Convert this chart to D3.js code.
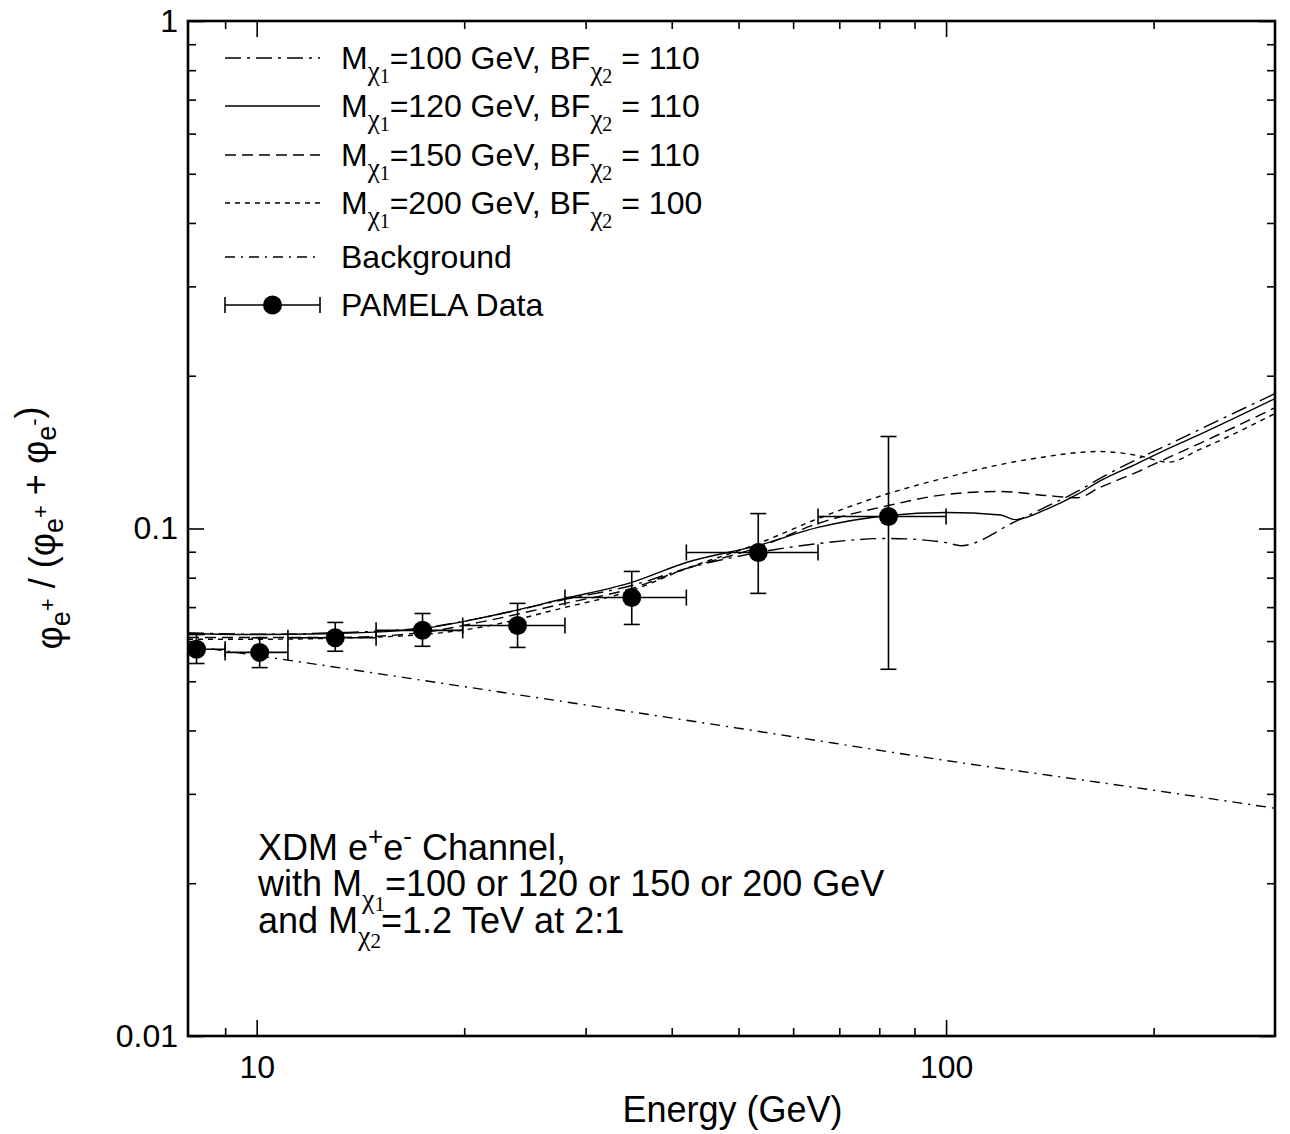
<!DOCTYPE html>
<html>
<head>
<meta charset="utf-8">
<script src="https://cdn.jsdelivr.net/npm/d3@7"></script>
<style>
  body { margin: 0; background: #fff; }
  svg { display: block; font-family: "Liberation Sans", Arial, sans-serif; }
  .axis path { display: none; }
  .axis line { stroke: #000; stroke-width: 1.6; }
  .axis text { font-size: 32px; fill: #000; font-family: "Liberation Sans", Arial, sans-serif; }
</style>
</head>
<body>
<svg width="1290" height="1134"></svg>
<script>
// PAMELA positron fraction points
const pamelaE = [8.18, 10.1, 13.0, 17.4, 23.9, 35.0, 53.4, 82.5];
const pamelaLo = [7.4, 9.0, 11.1, 14.9, 19.9, 28.0, 42.0, 65.2];
const pamelaHi = [9.0, 11.1, 14.9, 19.9, 28.0, 42.0, 65.2, 100];
const pamelaFrac = [0.0578, 0.0570, 0.0609, 0.0630, 0.0644, 0.0731, 0.0897, 0.1056];
const pamelaErrLo = [0.0542, 0.0532, 0.0573, 0.0586, 0.0583, 0.0647, 0.0745, 0.0528];
const pamelaErrHi = [0.0618, 0.0609, 0.0653, 0.0680, 0.0712, 0.0823, 0.1070, 0.1518];

// model curves (energy in GeV)
const eM100 = [7.95, 10, 13, 17.4, 21, 28, 35, 42, 53.4, 65.2, 82.5, 100, 105, 126, 140, 155, 167, 190, 210, 233, 300];
const fM100 = [0.0623, 0.0619, 0.0623, 0.0637, 0.0665, 0.0725, 0.0772, 0.0834, 0.0897, 0.0934, 0.0956, 0.0938, 0.0925, 0.1032, 0.1105, 0.1183, 0.1254, 0.1373, 0.1463, 0.1566, 0.1844];
const eM120 = [7.95, 10, 13, 17.4, 21, 28, 35, 42, 53.4, 65.2, 82.5, 100, 120, 126, 140, 155, 167, 190, 210, 233, 300];
const fM120 = [0.0621, 0.0618, 0.0621, 0.0635, 0.0665, 0.0728, 0.0783, 0.0857, 0.0926, 0.1005, 0.1061, 0.1075, 0.1063, 0.1041, 0.1092, 0.1167, 0.1240, 0.1346, 0.1437, 0.1531, 0.1803];
const eM150 = [7.95, 10, 13, 17.4, 21, 28, 35, 42, 53.4, 65.2, 82.5, 100, 120, 140, 155, 167, 190, 210, 233, 300];
const fM150 = [0.0610, 0.0610, 0.0610, 0.0624, 0.0653, 0.0712, 0.0762, 0.0834, 0.0918, 0.1023, 0.1110, 0.1167, 0.1183, 0.1161, 0.1150, 0.1204, 0.1295, 0.1379, 0.1470, 0.1730];
const eM200 = [7.95, 10, 13, 17.4, 21, 28, 35, 42, 53.4, 65.2, 82.5, 100, 120, 140, 155, 167, 190, 210, 233, 300];
const fM200 = [0.0605, 0.0605, 0.0608, 0.0618, 0.0638, 0.0699, 0.0755, 0.0834, 0.0934, 0.1046, 0.1172, 0.1260, 0.1337, 0.1386, 0.1411, 0.1418, 0.1392, 0.1351, 0.1430, 0.1684];
const eBkg = [7.95, 10, 20, 50, 100, 200, 300];
const fBkg = [0.0588, 0.0562, 0.0488, 0.0404, 0.0349, 0.0305, 0.0281];

const xMajor = [10, 100];
const xMinor = [9, 20, 30, 40, 50, 60, 70, 80, 90, 200];
const yMajor = [0.01, 0.1, 1];
const yMinor = [0.02, 0.03, 0.04, 0.05, 0.06, 0.07, 0.08, 0.09, 0.2, 0.3, 0.4, 0.5, 0.6, 0.7, 0.8, 0.9];

const legendRows = [
  { mass: "100", bf: "110", dash: "16,6,3,6" },
  { mass: "120", bf: "110", dash: null },
  { mass: "150", bf: "110", dash: "11,6" },
  { mass: "200", bf: "100", dash: "5,5" }
];

const svg = d3.select("svg");
const mLeft = 188, mRight = 1275, mTop = 21, mBottom = 1036;

const x = d3.scaleLog().domain([7.95, 300]).range([mLeft, mRight]);
const y = d3.scaleLog().domain([0.01, 1]).range([mBottom, mTop]);

svg.append("defs").append("clipPath").attr("id", "plotclip")
  .append("rect")
  .attr("x", mLeft).attr("y", mTop)
  .attr("width", mRight - mLeft).attr("height", mBottom - mTop);

// axes, ticks inward on all four sides
svg.append("g").attr("class", "axis").attr("transform", `translate(0,${mBottom})`)
  .call(d3.axisBottom(x).tickValues(xMajor).tickSize(-16).tickPadding(19).tickFormat(d3.format("")));
svg.append("g").attr("class", "axis").attr("transform", `translate(0,${mBottom})`)
  .call(d3.axisBottom(x).tickValues(xMinor).tickSize(-8).tickFormat(""));
svg.append("g").attr("class", "axis").attr("transform", `translate(0,${mTop})`)
  .call(d3.axisTop(x).tickValues(xMajor).tickSize(-16).tickFormat(""));
svg.append("g").attr("class", "axis").attr("transform", `translate(0,${mTop})`)
  .call(d3.axisTop(x).tickValues(xMinor).tickSize(-8).tickFormat(""));

svg.append("g").attr("class", "axis").attr("transform", `translate(${mLeft},0)`)
  .call(d3.axisLeft(y).tickValues(yMajor).tickSize(-16).tickPadding(10).tickFormat(d3.format("")));
svg.append("g").attr("class", "axis").attr("transform", `translate(${mLeft},0)`)
  .call(d3.axisLeft(y).tickValues(yMinor).tickSize(-8).tickFormat(""));
svg.append("g").attr("class", "axis").attr("transform", `translate(${mRight},0)`)
  .call(d3.axisRight(y).tickValues(yMajor).tickSize(-16).tickFormat(""));
svg.append("g").attr("class", "axis").attr("transform", `translate(${mRight},0)`)
  .call(d3.axisRight(y).tickValues(yMinor).tickSize(-8).tickFormat(""));

// frame
svg.append("rect")
  .attr("x", mLeft).attr("y", mTop)
  .attr("width", mRight - mLeft).attr("height", mBottom - mTop)
  .attr("fill", "none").attr("stroke", "#000").attr("stroke-width", 2.6);

// curves
const line = d3.line().x(d => x(d[0])).y(d => y(d[1])).curve(d3.curveMonotoneX);
const curves = [
  { e: eBkg, f: fBkg, dash: "10,6,2,6" },
  { e: eM200, f: fM200, dash: "5,5" },
  { e: eM150, f: fM150, dash: "11,6" },
  { e: eM100, f: fM100, dash: "16,6,3,6" },
  { e: eM120, f: fM120, dash: null }
];
const plot = svg.append("g").attr("clip-path", "url(#plotclip)");
curves.forEach(c => {
  plot.append("path")
    .datum(c.e.map((e, i) => [e, c.f[i]]))
    .attr("d", line)
    .attr("fill", "none")
    .attr("stroke", "#000")
    .attr("stroke-width", 1.4)
    .attr("stroke-dasharray", c.dash);
});

// PAMELA data with error bars
const pts = pamelaE.map((e, i) => ({
  e, lo: pamelaLo[i], hi: pamelaHi[i], f: pamelaFrac[i], fl: pamelaErrLo[i], fh: pamelaErrHi[i]
}));
const cap = 8;
const eb = plot.append("g").attr("stroke", "#000").attr("stroke-width", 1.6);
pts.forEach(p => {
  eb.append("line").attr("x1", x(p.lo)).attr("x2", x(p.hi)).attr("y1", y(p.f)).attr("y2", y(p.f));
  eb.append("line").attr("x1", x(p.lo)).attr("x2", x(p.lo)).attr("y1", y(p.f) - cap).attr("y2", y(p.f) + cap);
  eb.append("line").attr("x1", x(p.hi)).attr("x2", x(p.hi)).attr("y1", y(p.f) - cap).attr("y2", y(p.f) + cap);
  eb.append("line").attr("x1", x(p.e)).attr("x2", x(p.e)).attr("y1", y(p.fl)).attr("y2", y(p.fh));
  eb.append("line").attr("x1", x(p.e) - cap).attr("x2", x(p.e) + cap).attr("y1", y(p.fl)).attr("y2", y(p.fl));
  eb.append("line").attr("x1", x(p.e) - cap).attr("x2", x(p.e) + cap).attr("y1", y(p.fh)).attr("y2", y(p.fh));
});
plot.selectAll("circle.pt")
  .data(pts)
  .enter()
  .append("circle")
  .attr("class", "pt")
  .attr("cx", d => x(d.e))
  .attr("cy", d => y(d.f))
  .attr("r", 9.5)
  .attr("fill", "#000");

// legend
const legX1 = 225, legX2 = 320, legText = 341;
const legY = [58, 106, 155, 203, 257, 305];
const legend = svg.append("g").attr("font-size", 32);
const sub = (t, ch, n) => {
  t.append("tspan").attr("font-family", "Liberation Serif").attr("font-size", 27).attr("dy", 11).text(ch);
  t.append("tspan").attr("font-family", "Liberation Serif").attr("font-size", 20).attr("dy", 3).text(n);
};
legendRows.forEach((r, i) => {
  legend.append("line")
    .attr("x1", legX1).attr("x2", legX2).attr("y1", legY[i]).attr("y2", legY[i])
    .attr("stroke", "#000").attr("stroke-width", 1.4)
    .attr("stroke-dasharray", r.dash);
  const t = legend.append("text").attr("x", legText).attr("y", legY[i] + 11);
  t.append("tspan").text("M");
  sub(t, "χ", "1");
  t.append("tspan").attr("dy", -14).text(`=${r.mass} GeV, BF`);
  sub(t, "χ", "2");
  t.append("tspan").attr("dy", -14).text(` = ${r.bf}`);
});
legend.append("line")
  .attr("x1", legX1).attr("x2", legX2).attr("y1", legY[4]).attr("y2", legY[4])
  .attr("stroke", "#000").attr("stroke-width", 1.4).attr("stroke-dasharray", "10,6,2,6");
legend.append("text").attr("x", legText).attr("y", legY[4] + 11).text("Background");
const pl = legend.append("g").attr("stroke", "#000").attr("stroke-width", 1.6);
pl.append("line").attr("x1", legX1).attr("x2", legX2).attr("y1", legY[5]).attr("y2", legY[5]);
pl.append("line").attr("x1", legX1).attr("x2", legX1).attr("y1", legY[5] - cap).attr("y2", legY[5] + cap);
pl.append("line").attr("x1", legX2).attr("x2", legX2).attr("y1", legY[5] - cap).attr("y2", legY[5] + cap);
legend.append("circle").attr("cx", (legX1 + legX2) / 2).attr("cy", legY[5]).attr("r", 9.5).attr("fill", "#000");
legend.append("text").attr("x", legText).attr("y", legY[5] + 11).text("PAMELA Data");

// annotation
const note = svg.append("g").attr("font-size", 36);
const n1 = note.append("text").attr("x", 258).attr("y", 860);
n1.append("tspan").text("XDM e");
n1.append("tspan").attr("font-size", 26).attr("dy", -15).text("+");
n1.append("tspan").attr("dy", 15).text("e");
n1.append("tspan").attr("font-size", 26).attr("dy", -15).text("-");
n1.append("tspan").attr("dy", 15).text(" Channel,");
const n2 = note.append("text").attr("x", 258).attr("y", 896);
n2.append("tspan").text("with M");
n2.append("tspan").attr("font-family", "Liberation Serif").attr("font-size", 28).attr("dy", 12).text("χ");
n2.append("tspan").attr("font-family", "Liberation Serif").attr("font-size", 21).attr("dy", 3).text("1");
n2.append("tspan").attr("dy", -15).text("=100 or 120 or 150 or 200 GeV");
const n3 = note.append("text").attr("x", 258).attr("y", 933);
n3.append("tspan").text("and M");
n3.append("tspan").attr("font-family", "Liberation Serif").attr("font-size", 28).attr("dy", 12).text("χ");
n3.append("tspan").attr("font-family", "Liberation Serif").attr("font-size", 21).attr("dy", 3).text("2");
n3.append("tspan").attr("dy", -15).text("=1.2 TeV at 2:1");

// axis titles
svg.append("text")
  .attr("x", (mLeft + mRight) / 2 + 1).attr("y", 1122)
  .attr("text-anchor", "middle").attr("font-size", 36)
  .text("Energy (GeV)");

const yt = svg.append("text")
  .attr("transform", "translate(62,528) rotate(-90)")
  .attr("text-anchor", "middle").attr("font-size", 36);
const phi = (sign) => {
  yt.append("tspan").text("φ");
  yt.append("tspan").attr("font-size", 27).attr("dy", 8).text("e");
  yt.append("tspan").attr("font-size", 22).attr("dy", -15).text(sign);
  yt.append("tspan").attr("dy", 7).text("");
};
phi("+");
yt.append("tspan").text(" / (");
phi("+");
yt.append("tspan").text(" + ");
phi("-");
yt.append("tspan").text(")");
</script>
</body>
</html>
